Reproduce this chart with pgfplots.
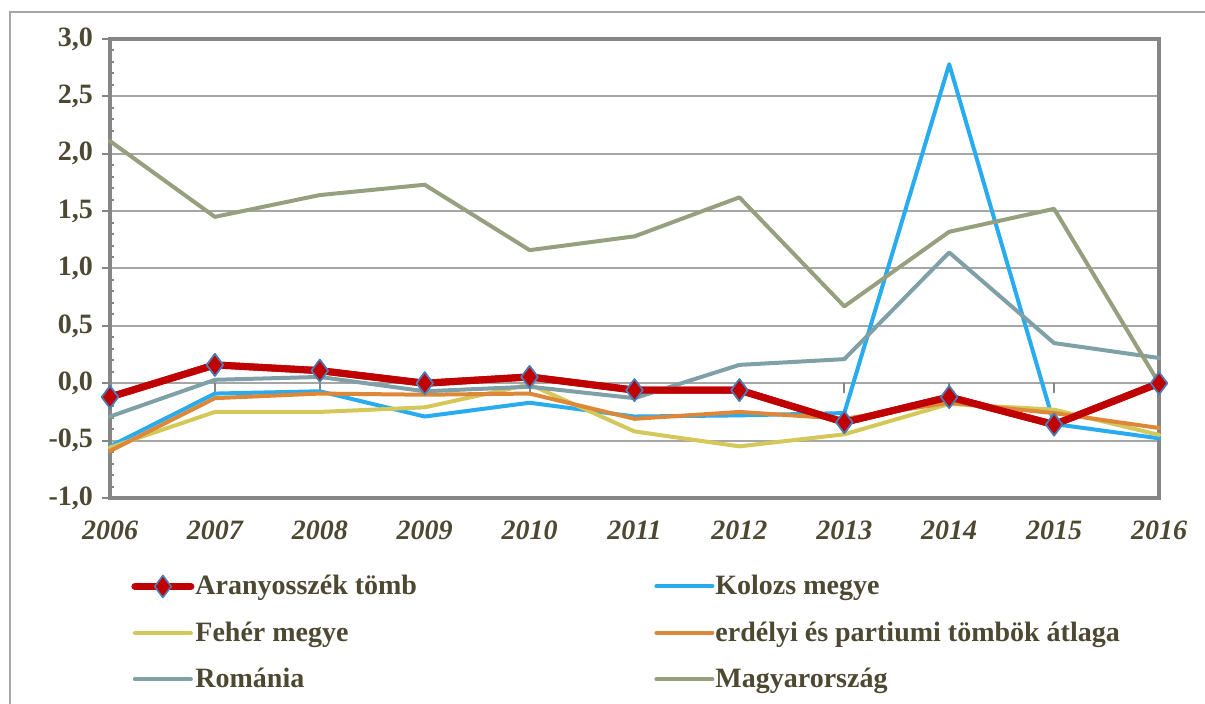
\documentclass[border=0pt]{standalone}
\usepackage{pgfplots}
\usepackage{pgfplotstable}
\pgfplotsset{compat=1.18}
\usepackage{fontspec}
\setmainfont{Liberation Serif}
\definecolor{textc}{RGB}{77,72,50}
\definecolor{framec}{RGB}{134,134,134}
\definecolor{gridc}{RGB}{166,166,166}
\definecolor{cred}{RGB}{192,0,0}
\definecolor{cmark}{RGB}{74,126,187}
\definecolor{cblue}{RGB}{41,171,240}
\definecolor{cyellow}{RGB}{212,200,90}
\definecolor{corange}{RGB}{221,136,56}
\definecolor{cgray}{RGB}{127,160,166}
\definecolor{colive}{RGB}{150,160,126}

\pgfplotstableread{
year A K F E R M
2006 -0.12 -0.55 -0.56 -0.59 -0.29 2.11
2007 0.16 -0.09 -0.25 -0.13 0.03 1.45
2008 0.11 -0.07 -0.25 -0.09 0.055 1.64
2009 0.00 -0.29 -0.21 -0.10 -0.07 1.73
2010 0.055 -0.17 -0.01 -0.09 -0.03 1.16
2011 -0.06 -0.29 -0.42 -0.31 -0.13 1.28
2012 -0.06 -0.28 -0.55 -0.25 0.16 1.62
2013 -0.34 -0.26 -0.445 -0.31 0.21 0.67
2014 -0.12 2.78 -0.18 -0.17 1.14 1.32
2015 -0.36 -0.355 -0.23 -0.26 0.35 1.52
2016 0.00 -0.48 -0.45 -0.39 0.22 0.00
}\data

\pgfplotstableread{
year t
2007 -0.08
2008 -0.08
2009 -0.08
2010 -0.08
2011 -0.08
2012 -0.08
2013 -0.08
2014 -0.08
2015 -0.08
}\ticksdata

\begin{document}
\begin{tikzpicture}
\path[use as bounding box] (0,0) rectangle (602.5pt,-352pt);
\draw[gridc, line width=1pt] (5pt,-360pt) -- (5pt,-6pt) -- (610pt,-6pt);
\begin{axis}[
  at={(55pt,-249pt)}, anchor=south west,
  scale only axis, width=524.5pt, height=229.5pt,
  xmin=2006, xmax=2016, ymin=-1, ymax=3,
  clip=false,
  axis line style={draw=framec, line width=2pt},
  xtick={2006,2007,2008,2009,2010,2011,2012,2013,2014,2015,2016},
  x tick style={draw=none},
  xticklabel style={font=\bfseries\itshape\fontsize{14}{16}\selectfont, text=textc, yshift=-4pt, /pgf/number format/set thousands separator={}},
  ytick={-1,-0.5,0,0.5,1,1.5,2,2.5,3},
  minor y tick num=4,
  ytick pos=left,
  tick align=outside,
  major tick length=4pt, minor tick length=2pt,
  y tick style={draw=framec, line width=1pt},
  minor tick style={xshift=2pt},
  yticklabel style={font=\bfseries\fontsize{14}{16}\selectfont, text=textc, xshift=-1pt, /pgf/number format/.cd, use comma, fixed, fixed zerofill, precision=1},
  /pgf/number format/assume math mode=true,
  ymajorgrids, major grid style={gridc, line width=1pt},
  every axis plot/.append style={line join=round, line cap=round},
  legend columns=2,
  legend cell align=left,
  legend style={at={(0.0143,-0.15)}, anchor=north west, draw=none, fill=none,
    font=\bfseries\fontsize{14}{16}\selectfont, text=textc, row sep=8pt,
    nodes={inner xsep=0.5pt}},
  legend image code/.code={\draw[mark repeat=2,mark phase=2,#1] plot coordinates {(0pt,0pt) (14pt,0pt) (28pt,0pt)};},
]
\addplot[forget plot, ycomb, framec, line width=1pt, no marks] table[x=year, y=t] {\ticksdata};
\addplot[cred, line width=3.5pt, mark=diamond*, mark size=5.5pt, mark options={fill=cred, draw=cmark, line width=0.8pt}] table[x=year, y=A] {\data};
\addlegendentry{\makebox[229pt][l]{Aranyosszék tömb}}
\addplot[cblue, line width=2pt, no marks] table[x=year, y=K] {\data};
\addlegendentry{Kolozs megye}
\addplot[cyellow, line width=2pt, no marks] table[x=year, y=F] {\data};
\addlegendentry{\makebox[229pt][l]{Fehér megye}}
\addplot[corange, line width=2pt, no marks] table[x=year, y=E] {\data};
\addlegendentry{erdélyi és partiumi tömbök átlaga}
\addplot[cgray, line width=2pt, no marks] table[x=year, y=R] {\data};
\addlegendentry{\makebox[229pt][l]{Románia}}
\addplot[colive, line width=2pt, no marks] table[x=year, y=M] {\data};
\addlegendentry{Magyarország}
\addplot[forget plot, cred, line width=3.5pt, mark=diamond*, mark size=5.5pt, mark options={fill=cred, draw=cmark, line width=0.8pt}] table[x=year, y=A] {\data};
\end{axis}
\end{tikzpicture}
\end{document}
